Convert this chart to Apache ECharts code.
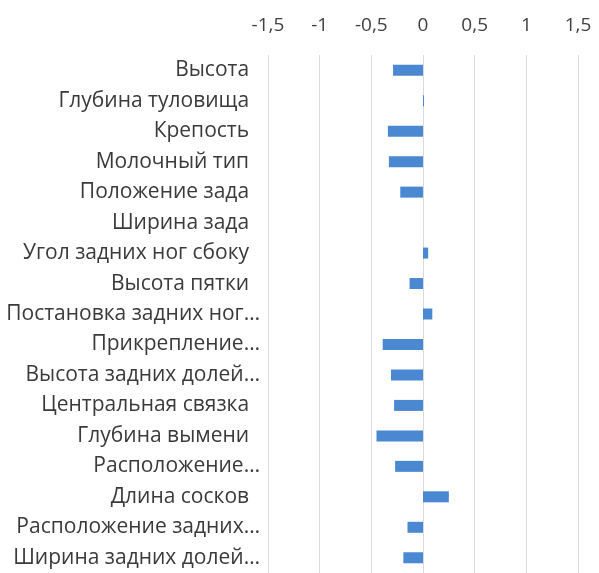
<!DOCTYPE html>
<html><head><meta charset="utf-8">
<script src="https://cdn.jsdelivr.net/npm/echarts@6/dist/echarts.min.js"></script>
<style>html,body{margin:0;padding:0;background:#fff}#c{width:599px;height:573px}</style>
</head><body><div id="c"></div>
<script>
const categories = [
  "Высота  ",
  "Глубина туловища  ",
  "Крепость  ",
  "Молочный тип  ",
  "Положение зада  ",
  "Ширина зада  ",
  "Угол задних ног сбоку  ",
  "Высота пятки  ",
  "Постановка задних ног…",
  "Прикрепление…",
  "Высота задних долей…",
  "Центральная связка  ",
  "Глубина вымени  ",
  "Расположение…",
  "Длина сосков  ",
  "Расположение задних…",
  "Ширина задних долей…"
];
const values = [-0.29, 0.01, -0.34, -0.33, -0.22, 0, 0.05, -0.13, 0.09, -0.39, -0.31, -0.28, -0.45, -0.27, 0.25, -0.15, -0.19];
const xTicks = { min: -1.5, max: 1.5, step: 0.5 };

const chart = echarts.init(document.getElementById('c'), null, { renderer: 'canvas' });
chart.setOption({
  animation: false,
  grid: { left: 268, right: 21, top: 55, height: 522 },
  xAxis: {
    type: 'value', position: 'top',
    min: xTicks.min, max: xTicks.max, interval: xTicks.step,
    axisLine: { show: false }, axisTick: { show: false },
    axisLabel: { color: '#404040', fontSize: 19, fontFamily: 'Open Sans', margin: 20,
      formatter: v => String(v).replace('.', ',') },
    splitLine: { show: true, lineStyle: { color: '#d9d9d9', width: 1 } }
  },
  yAxis: {
    type: 'category', inverse: true, data: categories,
    axisLine: { show: false }, axisTick: { show: false },
    axisLabel: { color: '#3a3a3a', fontSize: 21, fontFamily: 'Open Sans', margin: 8, interval: 0 }
  },
  series: [{
    type: 'bar', data: values, barWidth: 11,
    itemStyle: { color: '#4a88d2' }
  }]
});
</script></body></html>
